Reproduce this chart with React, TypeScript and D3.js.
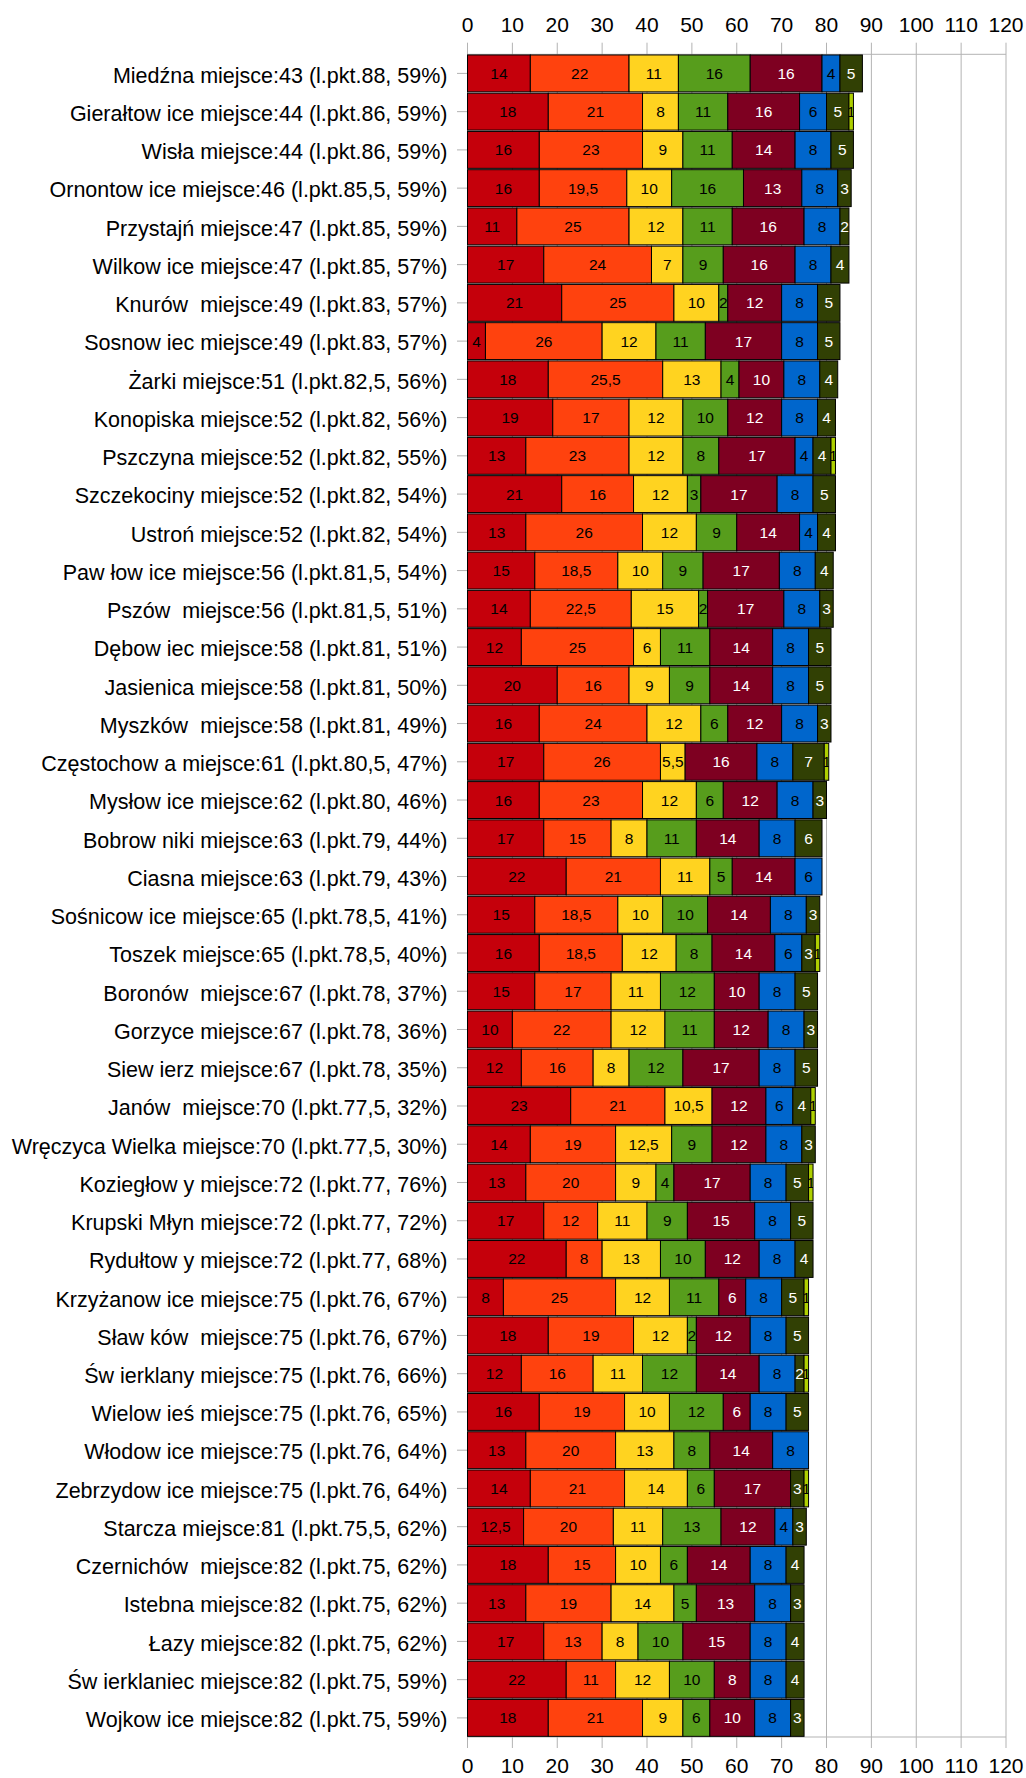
import React from "react";
import * as d3 from "d3";

const categories = [
  "Miedźna miejsce:43 (l.pkt.88, 59%)",
  "Gierałtowice miejsce:44 (l.pkt.86, 59%)",
  "Wisła miejsce:44 (l.pkt.86, 59%)",
  "Ornontowice miejsce:46 (l.pkt.85,5, 59%)",
  "Przystajń miejsce:47 (l.pkt.85, 59%)",
  "Wilkowice miejsce:47 (l.pkt.85, 57%)",
  "Knurów miejsce:49 (l.pkt.83, 57%)",
  "Sosnowiec miejsce:49 (l.pkt.83, 57%)",
  "Żarki miejsce:51 (l.pkt.82,5, 56%)",
  "Konopiska miejsce:52 (l.pkt.82, 56%)",
  "Pszczyna miejsce:52 (l.pkt.82, 55%)",
  "Szczekociny miejsce:52 (l.pkt.82, 54%)",
  "Ustroń miejsce:52 (l.pkt.82, 54%)",
  "Pawłowice miejsce:56 (l.pkt.81,5, 54%)",
  "Pszów miejsce:56 (l.pkt.81,5, 51%)",
  "Dębowiec miejsce:58 (l.pkt.81, 51%)",
  "Jasienica miejsce:58 (l.pkt.81, 50%)",
  "Myszków miejsce:58 (l.pkt.81, 49%)",
  "Częstochowa miejsce:61 (l.pkt.80,5, 47%)",
  "Mysłowice miejsce:62 (l.pkt.80, 46%)",
  "Bobrowniki miejsce:63 (l.pkt.79, 44%)",
  "Ciasna miejsce:63 (l.pkt.79, 43%)",
  "Sośnicowice miejsce:65 (l.pkt.78,5, 41%)",
  "Toszek miejsce:65 (l.pkt.78,5, 40%)",
  "Boronów miejsce:67 (l.pkt.78, 37%)",
  "Gorzyce miejsce:67 (l.pkt.78, 36%)",
  "Siewierz miejsce:67 (l.pkt.78, 35%)",
  "Janów miejsce:70 (l.pkt.77,5, 32%)",
  "Wręczyca Wielka miejsce:70 (l.pkt.77,5, 30%)",
  "Koziegłowy miejsce:72 (l.pkt.77, 76%)",
  "Krupski Młyn miejsce:72 (l.pkt.77, 72%)",
  "Rydułtowy miejsce:72 (l.pkt.77, 68%)",
  "Krzyżanowice miejsce:75 (l.pkt.76, 67%)",
  "Sławków miejsce:75 (l.pkt.76, 67%)",
  "Świerklany miejsce:75 (l.pkt.76, 66%)",
  "Wielowieś miejsce:75 (l.pkt.76, 65%)",
  "Włodowice miejsce:75 (l.pkt.76, 64%)",
  "Zebrzydowice miejsce:75 (l.pkt.76, 64%)",
  "Starcza miejsce:81 (l.pkt.75,5, 62%)",
  "Czernichów miejsce:82 (l.pkt.75, 62%)",
  "Istebna miejsce:82 (l.pkt.75, 62%)",
  "Łazy miejsce:82 (l.pkt.75, 62%)",
  "Świerklaniec miejsce:82 (l.pkt.75, 59%)",
  "Wojkowice miejsce:82 (l.pkt.75, 59%)",
];

const part1 = [14, 18, 16, 16, 11, 17, 21, 4, 18, 19, 13, 21, 13, 15, 14, 12, 20, 16, 17, 16, 17, 22, 15, 16, 15, 10, 12, 23, 14, 13, 17, 22, 8, 18, 12, 16, 13, 14, 12.5, 18, 13, 17, 22, 18];
const part2 = [22, 21, 23, 19.5, 25, 24, 25, 26, 25.5, 17, 23, 16, 26, 18.5, 22.5, 25, 16, 24, 26, 23, 15, 21, 18.5, 18.5, 17, 22, 16, 21, 19, 20, 12, 8, 25, 19, 16, 19, 20, 21, 20, 15, 19, 13, 11, 21];
const part3 = [11, 8, 9, 10, 12, 7, 10, 12, 13, 12, 12, 12, 12, 10, 15, 6, 9, 12, 5.5, 12, 8, 11, 10, 12, 11, 12, 8, 10.5, 12.5, 9, 11, 13, 12, 12, 11, 10, 13, 14, 11, 10, 14, 8, 12, 9];
const part4 = [16, 11, 11, 16, 11, 9, 2, 11, 4, 10, 8, 3, 9, 9, 2, 11, 9, 6, 0, 6, 11, 5, 10, 8, 12, 11, 12, 0, 9, 4, 9, 10, 11, 2, 12, 12, 8, 6, 13, 6, 5, 10, 10, 6];
const part5 = [16, 16, 14, 13, 16, 16, 12, 17, 10, 12, 17, 17, 14, 17, 17, 14, 14, 12, 16, 12, 14, 14, 14, 14, 10, 12, 17, 12, 12, 17, 15, 12, 6, 12, 14, 6, 14, 17, 12, 14, 13, 15, 8, 10];
const part6 = [4, 6, 8, 8, 8, 8, 8, 8, 8, 8, 4, 8, 4, 8, 8, 8, 8, 8, 8, 8, 8, 6, 8, 6, 8, 8, 8, 6, 8, 8, 8, 8, 8, 8, 8, 8, 8, 0, 4, 8, 8, 8, 8, 8];
const part7 = [5, 5, 5, 3, 2, 4, 5, 5, 4, 4, 4, 5, 4, 4, 3, 5, 5, 3, 7, 3, 6, 0, 3, 3, 5, 3, 5, 4, 3, 5, 5, 4, 5, 5, 2, 5, 0, 3, 3, 4, 3, 4, 4, 3];
const part8 = [0, 1, 0, 0, 0, 0, 0, 0, 0, 0, 1, 0, 0, 0, 0, 0, 0, 0, 1, 0, 0, 0, 0, 1, 0, 0, 0, 1, 0, 1, 0, 0, 1, 0, 1, 0, 0, 1, 0, 0, 0, 0, 0, 0];

const parts = [part1, part2, part3, part4, part5, part6, part7, part8];
const partColors = ["#C5000B", "#FF420E", "#FFD320", "#579D1C", "#7E0021", "#0066CC", "#314004", "#AECF00"];
const partTextColors = ["#000", "#000", "#000", "#000", "#fff", "#000", "#fff", "#000"];
const xTickValues = [0, 10, 20, 30, 40, 50, 60, 70, 80, 90, 100, 110, 120];

const W = 1026;
const H = 1778;
const FONT = "'Liberation Sans', Arial, sans-serif";

function CategoryLabel({ text, x, y }: { text: string; x: number; y: number }) {
  const pieces = text.split("w");
  return (
    <text x={x} y={y} textAnchor="end" fontSize={21.5} fontFamily={FONT} fill="#000">
      {pieces.map((p, i) => (
        <tspan key={i} dx={i > 0 ? 6 : 0}>
          {p + (i < pieces.length - 1 ? "w" : "")}
        </tspan>
      ))}
    </text>
  );
}

export default function App() {
  const plotLeft = 467.5;
  const plotRight = 1006;
  const plotTop = 54.3;
  const plotBottom = 1737;

  const x = d3.scaleLinear().domain([0, 120]).range([plotLeft, plotRight]);
  const y = d3
    .scaleBand<string>()
    .domain(categories)
    .range([plotTop, plotBottom])
    .paddingInner(0.035)
    .paddingOuter(0.017);

  const keys = parts.map((_, k) => `p${k}`);
  const table = categories.map((c, i) => {
    const row: Record<string, any> = { cat: c };
    parts.forEach((p, k) => (row[`p${k}`] = p[i]));
    return row;
  });
  const stacked = d3.stack<Record<string, any>>().keys(keys)(table);
  const fmt = (v: number) => String(v).replace(".", ",");

  return (
    <svg
      width={W}
      height={H}
      style={{ position: "absolute", left: 0, top: 0, background: "#fff" }}
    >
      <defs>
        {stacked.map((layer, k) =>
          layer.map((d, i) => {
            const x0 = x(d[0]);
            const x1 = x(d[1]);
            if (x1 - x0 <= 0) return null;
            return (
              <clipPath key={`c${k}-${i}`} id={`clip-${k}-${i}`}>
                <rect x={x0} y={y(categories[i])!} width={x1 - x0} height={y.bandwidth()} />
              </clipPath>
            );
          })
        )}
      </defs>
      <rect x={0} y={0} width={W} height={H} fill="#fff" />
      {/* grid lines and ticks */}
      {xTickValues.map((t) => (
        <line
          key={`g${t}`}
          x1={x(t)}
          x2={x(t)}
          y1={42.7}
          y2={1748}
          stroke="#b3b3b3"
          strokeWidth={1}
        />
      ))}
      <line x1={plotLeft} x2={plotRight} y1={plotTop} y2={plotTop} stroke="#b3b3b3" />
      <line x1={plotLeft} x2={plotRight} y1={plotBottom} y2={plotBottom} stroke="#b3b3b3" />
      <line x1={plotLeft} x2={plotLeft} y1={plotTop} y2={plotBottom} stroke="#b3b3b3" />
      {categories.map((c) => {
        const cy = y(c)! + y.bandwidth() / 2;
        return (
          <line key={`t${c}`} x1={457} x2={plotLeft} y1={cy} y2={cy} stroke="#b3b3b3" />
        );
      })}
      {/* tick labels */}
      {xTickValues.map((t) => (
        <text
          key={`lt${t}`}
          x={x(t)}
          y={31.7}
          textAnchor="middle"
          fontSize={21}
          fontFamily={FONT}
          fill="#000"
        >
          {t}
        </text>
      ))}
      {xTickValues.map((t) => (
        <text
          key={`lb${t}`}
          x={x(t)}
          y={1773}
          textAnchor="middle"
          fontSize={21}
          fontFamily={FONT}
          fill="#000"
        >
          {t}
        </text>
      ))}
      {/* category labels */}
      {categories.map((c) => (
        <CategoryLabel key={`cl${c}`} text={c} x={447.5} y={y(c)! + y.bandwidth() / 2 + 9.3} />
      ))}
      {/* bars */}
      {stacked.map((layer, k) => (
        <g key={`layer${k}`}>
          {layer.map((d, i) => {
            const x0 = x(d[0]);
            const x1 = x(d[1]);
            if (x1 - x0 <= 0) return null;
            return (
              <rect
                key={i}
                x={x0}
                y={y(categories[i])!}
                width={x1 - x0}
                height={y.bandwidth()}
                fill={partColors[k]}
                stroke="#000"
                strokeWidth={1}
              />
            );
          })}
        </g>
      ))}
      {stacked.map((layer, k) => (
        <g key={`lab${k}`}>
          {layer.map((d, i) => {
            const x0 = x(d[0]);
            const x1 = x(d[1]);
            if (x1 - x0 <= 0) return null;
            return (
              <text
                key={i}
                x={(x0 + x1) / 2}
                y={y(categories[i])! + y.bandwidth() / 2 + 5.5}
                textAnchor="middle"
                fontSize={15.5}
                fontFamily={FONT}
                fill={partTextColors[k]}
                clipPath={`url(#clip-${k}-${i})`}
              >
                {fmt(d[1] - d[0])}
              </text>
            );
          })}
        </g>
      ))}
    </svg>
  );
}
